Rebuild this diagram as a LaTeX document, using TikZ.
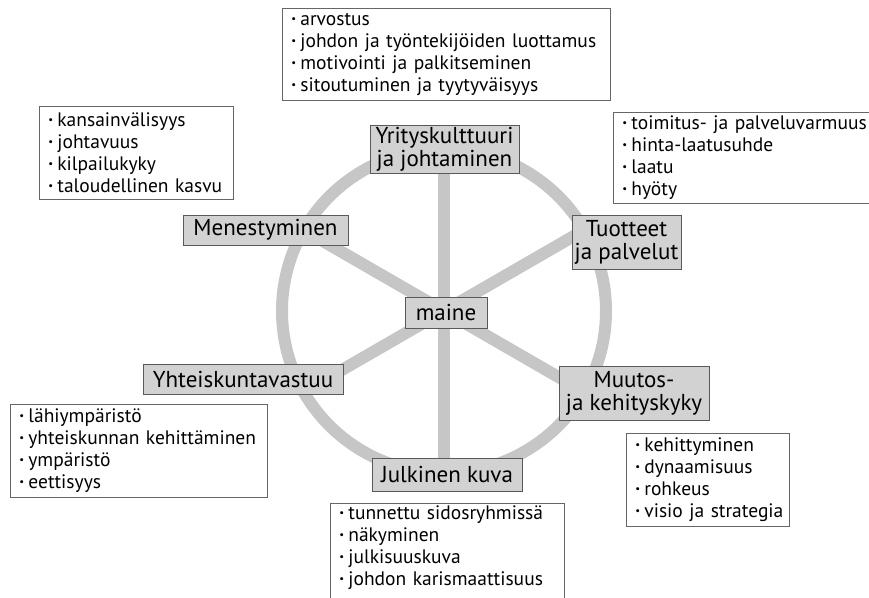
\documentclass[tikz,border=0pt]{standalone}
\usepackage{fontspec}
\usepackage{graphicx}
\setmainfont{PT Sans}
\usetikzlibrary{calc}
\newcommand{\bl}{\makebox[9pt][l]{\raisebox{0.3ex}{\scalebox{0.55}{•}}}}
\newcommand{\li}[1]{\bl\mbox{#1}}
\begin{document}
\begin{tikzpicture}[x=1pt,y=-1pt,
  spoke/.style={draw=gray!45, line width=12pt},
  lab/.style={draw=black!65, fill=gray!35, line width=0.9pt, font=\fontsize{23}{23}\selectfont, align=center, inner sep=0pt},
  lst/.style={draw=black!60, fill=white, line width=0.8pt, font=\fontsize{19.5}{22}\selectfont, align=left, anchor=north west, inner xsep=9pt, inner ysep=0pt},
]
\useasboundingbox (0,0) rectangle (869,597);
% wheel
\coordinate (c) at (444,311);
\draw[spoke] (c) circle[radius=162];
\foreach \a [count=\i] in {90,30,-30,-90,-150,150}{
  \coordinate (s\i) at ($(c)+(\a:-162)$);
}
\foreach \i in {1,...,6}{ \draw[spoke] (c) -- (s\i); }
% labels
\node[lab, minimum width=149, minimum height=48] (yk) at (444.5,149) {Yrityskulttuuri\\ja johtaminen};
\node[lab, minimum width=109, minimum height=54] (tp) at (626.5,242) {Tuotteet\\ja palvelut};
\node[lab, minimum width=150, minimum height=54] (mk) at (634,393) {Muutos-\\ja kehityskyky};
\node[lab, minimum width=150, minimum height=33] (jk) at (447,474.5) {Julkinen kuva};
\node[lab, minimum width=200, minimum height=30] (yv) at (243,379) {Yhteiskuntavastuu};
\node[lab, minimum width=165, minimum height=30] (me) at (265.5,230) {Menestyminen};
\node[lab, minimum width=82, minimum height=31] (ma) at (446,312.5) {maine};
% lists
\node[lst, text width=310, minimum height=92] (l1) at (282,8) {\li{arvostus}\\\li{johdon ja työntekijöiden luottamus}\\\li{motivointi ja palkitseminen}\\\li{sitoutuminen ja tyytyväisyys}};
\node[lst, text width=250, minimum height=91] (l2) at (613,112) {\li{toimitus- ja palveluvarmuus}\\\li{hinta-laatusuhde}\\\li{laatu}\\\li{hyöty}};
\node[lst, text width=176, minimum height=93] (l3) at (39,106) {\li{kansainvälisyys}\\\li{johtavuus}\\\li{kilpailukyky}\\\li{taloudellinen kasvu}};
\node[lst, text width=239, minimum height=93] (l4) at (10,404) {\li{lähiympäristö}\\\li{yhteiskunnan kehittäminen}\\\li{ympäristö}\\\li{eettisyys}};
\node[lst, text width=145, minimum height=93] (l5) at (626,433) {\li{kehittyminen}\\\li{dynaamisuus}\\\li{rohkeus}\\\li{visio ja strategia}};
\node[lst, draw=none, text width=216, minimum height=89] (l6) at (330,503) {\li{tunnettu sidosryhmissä}\\\li{näkyminen}\\\li{julkisuuskuva}\\\li{johdon karismaattisuus}};
\coordinate (bot) at (0,610);
\draw[draw=black!60, line width=0.8pt] (l6.north west |- bot) -- (l6.north west) -- (l6.north east) -- (l6.north east |- bot);
\end{tikzpicture}
\end{document}
